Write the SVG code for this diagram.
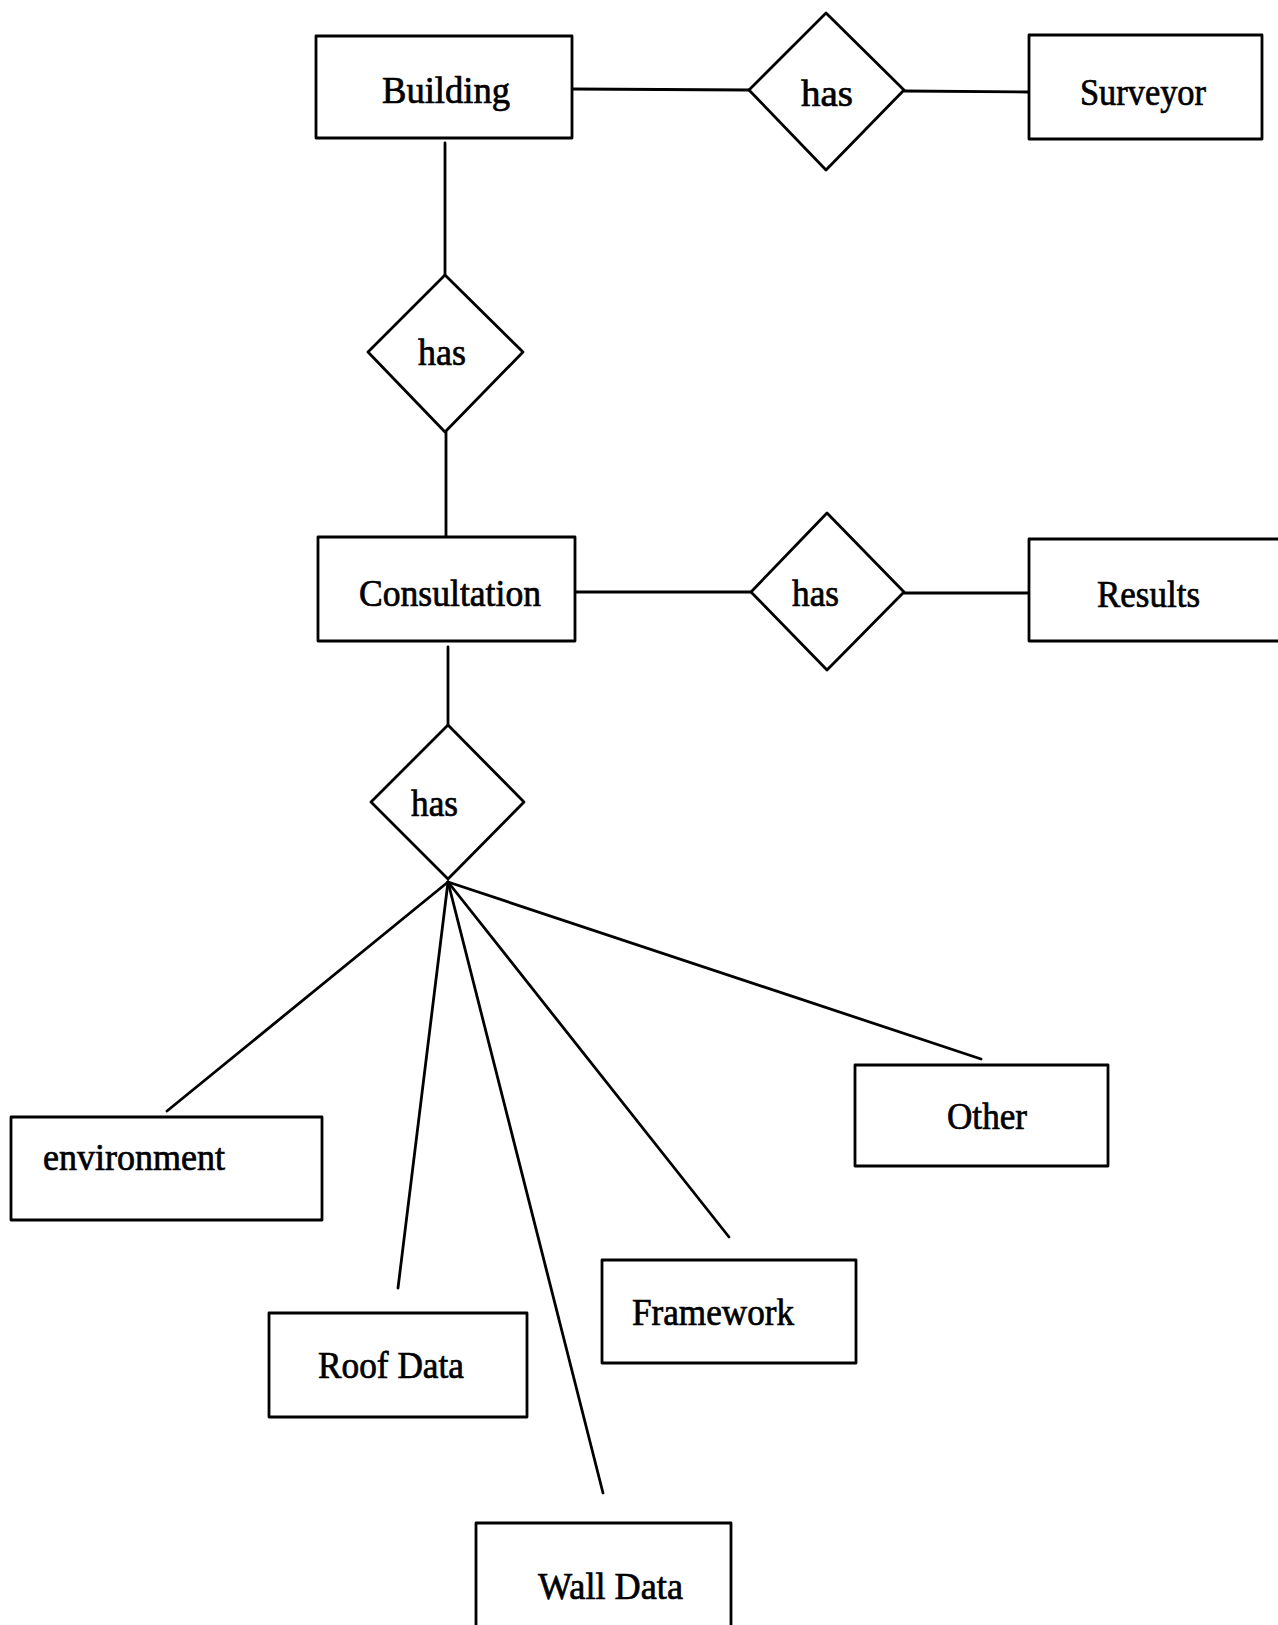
<svg xmlns="http://www.w3.org/2000/svg" width="1278" height="1625" viewBox="0 0 1278 1625">
  <style>
    .box { fill: #ffffff; stroke: #000000; stroke-width: 2.8; stroke-linejoin: round; }
    .rel { fill: #ffffff; stroke: #000000; stroke-width: 2.8; stroke-linejoin: round; }
    .edge { fill: none; stroke: #000000; stroke-width: 2.8; stroke-linecap: round; }
    .label { font-family: "Liberation Serif", "Times New Roman", serif; font-size: 37px; fill: #000000; stroke: #000000; stroke-width: 0.7; }
  </style>
  <rect x="0" y="0" width="1278" height="1625" fill="#ffffff"/>

  <!-- connectors -->
  <g id="connectors">
    <line class="edge" x1="572" y1="89" x2="749" y2="90"/>
    <line class="edge" x1="904" y1="91" x2="1029" y2="92"/>
    <line class="edge" x1="445" y1="143" x2="445" y2="275"/>
    <line class="edge" x1="446" y1="432" x2="446" y2="537"/>
    <line class="edge" x1="575" y1="592" x2="751" y2="592"/>
    <line class="edge" x1="904" y1="593" x2="1029" y2="593"/>
    <line class="edge" x1="448" y1="647" x2="448" y2="725"/>
    <line class="edge" x1="448" y1="882" x2="167" y2="1111"/>
    <line class="edge" x1="448" y1="882" x2="398" y2="1288"/>
    <line class="edge" x1="448" y1="882" x2="603" y2="1493"/>
    <line class="edge" x1="448" y1="882" x2="729" y2="1237"/>
    <line class="edge" x1="448" y1="882" x2="981" y2="1059"/>
  </g>

  <!-- entities -->
  <g id="building">
    <rect class="box" x="316" y="36" width="256" height="102"/>
    <text class="label" x="382" y="103" textLength="128" lengthAdjust="spacingAndGlyphs">Building</text>
  </g>
  <g id="surveyor">
    <rect class="box" x="1029" y="35" width="233" height="104"/>
    <text class="label" x="1080" y="105" textLength="126" lengthAdjust="spacingAndGlyphs">Surveyor</text>
  </g>
  <g id="consultation">
    <rect class="box" x="318" y="537" width="257" height="104"/>
    <text class="label" x="359" y="606" textLength="182" lengthAdjust="spacingAndGlyphs">Consultation</text>
  </g>
  <g id="results">
    <rect class="box" x="1029" y="539" width="270" height="102"/>
    <text class="label" x="1097" y="607" textLength="103" lengthAdjust="spacingAndGlyphs">Results</text>
  </g>
  <g id="environment">
    <rect class="box" x="11" y="1117" width="311" height="103"/>
    <text class="label" x="43" y="1170" textLength="182" lengthAdjust="spacingAndGlyphs">environment</text>
  </g>
  <g id="other">
    <rect class="box" x="855" y="1065" width="253" height="101"/>
    <text class="label" x="947" y="1129" textLength="80" lengthAdjust="spacingAndGlyphs">Other</text>
  </g>
  <g id="framework">
    <rect class="box" x="602" y="1260" width="254" height="103"/>
    <text class="label" x="632" y="1325" textLength="162" lengthAdjust="spacingAndGlyphs">Framework</text>
  </g>
  <g id="roof-data">
    <rect class="box" x="269" y="1313" width="258" height="104"/>
    <text class="label" x="318" y="1378" textLength="146" lengthAdjust="spacingAndGlyphs">Roof Data</text>
  </g>
  <g id="wall-data">
    <rect class="box" x="476" y="1523" width="255" height="120"/>
    <text class="label" x="538" y="1599" textLength="145" lengthAdjust="spacingAndGlyphs">Wall Data</text>
  </g>

  <!-- relationships -->
  <g id="has-surveyor">
    <polygon class="rel" points="826,13 904,90 826,170 749,90"/>
    <text class="label" x="801" y="106" textLength="52" lengthAdjust="spacingAndGlyphs">has</text>
  </g>
  <g id="has-consultation">
    <polygon class="rel" points="445,275 523,352 445,432 368,352"/>
    <text class="label" x="418" y="365" textLength="48" lengthAdjust="spacingAndGlyphs">has</text>
  </g>
  <g id="has-results">
    <polygon class="rel" points="827,513 904,592 827,670 751,592"/>
    <text class="label" x="792" y="606" textLength="47" lengthAdjust="spacingAndGlyphs">has</text>
  </g>
  <g id="has-parts">
    <polygon class="rel" points="448,725 524,802 448,879 371,802"/>
    <text class="label" x="411" y="816" textLength="47" lengthAdjust="spacingAndGlyphs">has</text>
  </g>
</svg>
